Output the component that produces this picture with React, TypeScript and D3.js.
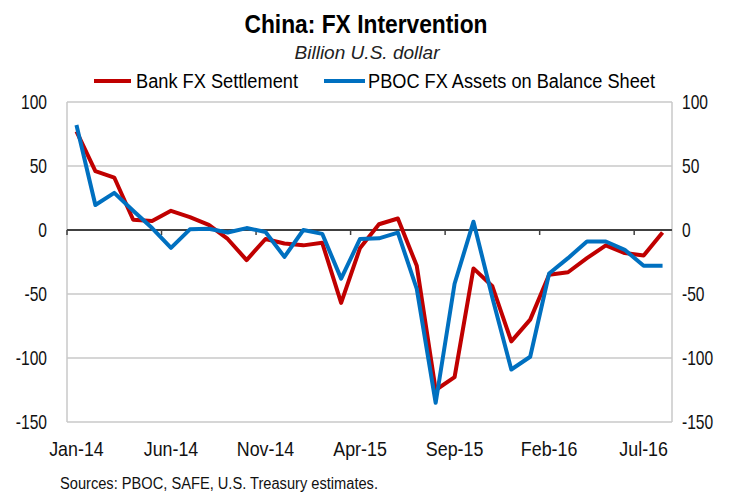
import React from "react";
import * as d3 from "d3";

const months = [
  "Jan-14","Feb-14","Mar-14","Apr-14","May-14","Jun-14","Jul-14","Aug-14","Sep-14","Oct-14","Nov-14","Dec-14",
  "Jan-15","Feb-15","Mar-15","Apr-15","May-15","Jun-15","Jul-15","Aug-15","Sep-15","Oct-15","Nov-15","Dec-15",
  "Jan-16","Feb-16","Mar-16","Apr-16","May-16","Jun-16","Jul-16","Aug-16",
];
const bankSettlement = [77,46,41,8,7,15,10,4,-7,-23.5,-7,-10.5,-12,-10,-57,-14,4.5,9,-28,-125,-115,-30,-44,-87,-70,-35,-33,-22,-12,-18,-20,-2];
const pbocAssets = [82,19.5,29,15,1.5,-14,0.5,1,-2,1.5,-1.5,-21,0,-3,-38,-7,-6.5,-2,-46,-135,-42,6.5,-53,-109,-99,-34,-22,-9,-9,-15.5,-28,-28];
const yTicks = [100,50,0,-50,-100,-150];
const labelEvery = 5;

const W = 732, H = 493;
const left = 67, right = 672, top = 102, bottom = 422;
const font = "'Liberation Sans', Arial, sans-serif";

export default function App() {
  const x = d3.scaleBand<string>().domain(months).range([left, right]);
  const cx = (i: number) => (x(months[i]) as number) + x.bandwidth() / 2;
  const y = d3.scaleLinear().domain([-150, 100]).range([bottom, top]);
  const line = d3.line<number>().x((_, i) => cx(i)).y(d => y(d));
  const tickIdx = months.map((_, i) => i).filter(i => i % labelEvery === 0);

  return (
    <svg width={W} height={H} style={{ position: "absolute", left: 0, top: 0, background: "#fff" }} fontFamily={font}>
      <text x={366} y={33} textAnchor="middle" fontSize={26} fontWeight="bold" textLength={243} lengthAdjust="spacingAndGlyphs">China: FX Intervention</text>
      <text x={367} y={59} textAnchor="middle" fontSize={19} fontStyle="italic" fill="#222" textLength={145} lengthAdjust="spacingAndGlyphs">Billion U.S. dollar</text>

      {/* legend */}
      <line x1={94} x2={131} y1={81} y2={81} stroke="#C00000" strokeWidth={4} />
      <text x={136} y={88} fontSize={20} textLength={162} lengthAdjust="spacingAndGlyphs">Bank FX Settlement</text>
      <line x1={324} x2={365} y1={81} y2={81} stroke="#0070C0" strokeWidth={4} />
      <text x={368} y={88} fontSize={20} textLength={287} lengthAdjust="spacingAndGlyphs">PBOC FX Assets on Balance Sheet</text>

      {/* grid + frame */}
      {yTicks.filter(t => t !== 0).map(t => (
        <line key={t} x1={left} x2={right} y1={y(t)} y2={y(t)} stroke="#C8C8C8" strokeWidth={1.5} />
      ))}
      <line x1={left} x2={left} y1={top} y2={bottom} stroke="#C8C8C8" strokeWidth={1.5} />
      <line x1={right} x2={right} y1={top} y2={bottom} stroke="#C8C8C8" strokeWidth={1.5} />

      {yTicks.map(t => (
        <g key={t} fontSize={20} fill="#111">
          <text transform={`translate(47,${y(t) + 7}) scale(0.78,1)`} textAnchor="end">{t}</text>
          <text transform={`translate(682,${y(t) + 7}) scale(0.78,1)`}>{t}</text>
        </g>
      ))}

      {/* zero axis with ticks */}
      <line x1={left} x2={right} y1={y(0)} y2={y(0)} stroke="#404040" strokeWidth={2} />
      {tickIdx.map(i => (
        <line key={i} x1={x(months[i])} x2={x(months[i])} y1={y(0)} y2={y(0) + 5} stroke="#404040" strokeWidth={1.5} />
      ))}

      <path d={line(bankSettlement) || ""} fill="none" stroke="#C00000" strokeWidth={4} strokeLinejoin="round" />
      <path d={line(pbocAssets) || ""} fill="none" stroke="#0070C0" strokeWidth={4} strokeLinejoin="round" />

      {tickIdx.map(i => (
        <text key={i} transform={`translate(${cx(i)},456) scale(0.85,1)`} textAnchor="middle" fontSize={21} fill="#111">{months[i]}</text>
      ))}

      <text x={60} y={489} fontSize={16} fill="#111" textLength={318} lengthAdjust="spacingAndGlyphs">Sources:  PBOC, SAFE, U.S. Treasury estimates.</text>
    </svg>
  );
}
